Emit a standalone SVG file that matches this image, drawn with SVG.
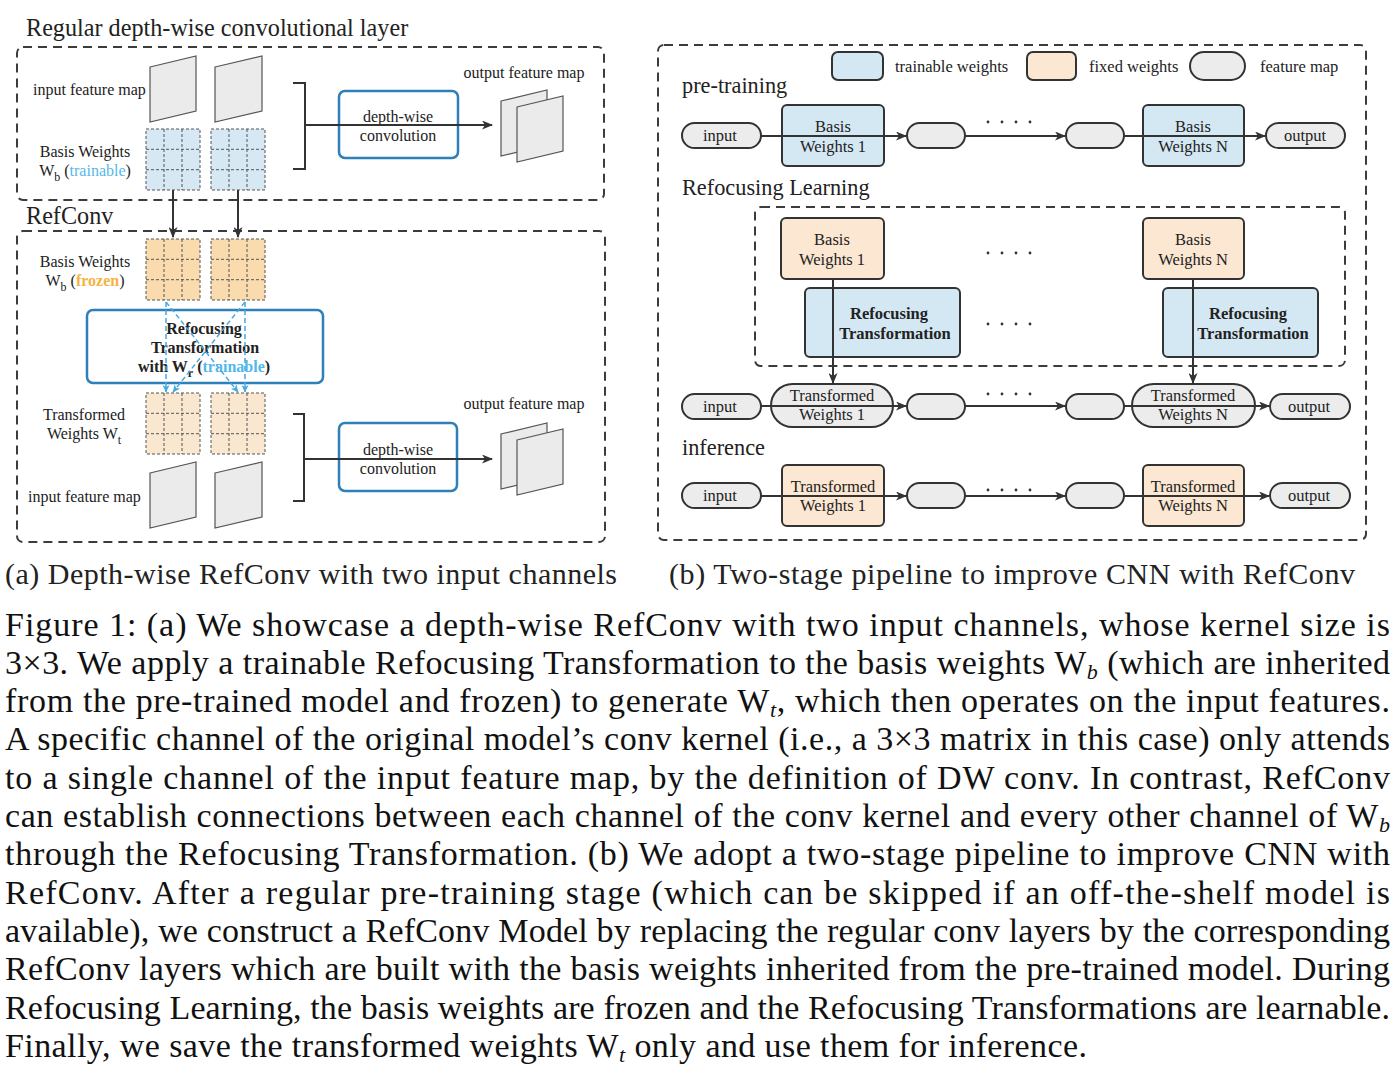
<svg xmlns="http://www.w3.org/2000/svg" width="1395" height="1077" viewBox="0 0 1395 1077">
<style>
text{font-family:"Liberation Serif","Times New Roman",serif;fill:#222}
.t16{font-size:16px}
.t165{font-size:16.5px}
.h22{font-size:22.3px}
.h24{font-size:24.2px}
.b{font-weight:bold}
.m{text-anchor:middle}
.cap{font-size:30px}
.para{font-size:34px;fill:#111}
.frame{fill:none;stroke:#3c3c3c;stroke-width:2;stroke-dasharray:9 6}
.fm{fill:#ebebeb;stroke:#555;stroke-width:1.2}
.conv{fill:none;stroke:#2f7fb8;stroke-width:2.5}
.node{stroke:#333;stroke-width:2}
.tw{fill:#d4e8f4}
.fw{fill:#fbe7d2}
.fp{fill:#ececec}
.ln{fill:none;stroke:#333;stroke-width:2}
.bl{fill:none;stroke:#45a9e2;stroke-width:1.5;stroke-dasharray:5 3}
</style>
<defs>
<marker id="ah" markerWidth="11" markerHeight="9" refX="10" refY="4.5" orient="auto" markerUnits="userSpaceOnUse"><path d="M0,0 L11,4.5 L0,9 L3,4.5z" fill="#333"/></marker>
<marker id="ahb" markerWidth="8" markerHeight="8" refX="7" refY="4" orient="auto" markerUnits="userSpaceOnUse"><path d="M0,0.5 L7.5,4 L0,7.5 L2,4z" fill="#45a9e2"/></marker>
<g id="grid">
<rect x="0" y="0" width="54" height="61" fill="none" stroke="#555" stroke-width="1" stroke-dasharray="3 2"/>
<path d="M18,0V61M36,0V61M0,20.3H54M0,40.7H54" fill="none" stroke="#555" stroke-width="1" stroke-dasharray="3 2"/>
</g>
</defs>

<!-- ===== Panel (a) ===== -->
<g id="panel-a">
<text x="26" y="36" class="h24">Regular depth-wise convolutional layer</text>
<rect x="17" y="47" width="587" height="153" rx="6" class="frame"/>
<text x="26" y="224" class="h24">RefConv</text>
<rect x="17" y="231" width="588" height="311" rx="6" class="frame"/>
</g>

<g id="input-fm-top">
<polygon points="150,67 196,56 196,111 150,122" class="fm"/>
<polygon points="215,67 262,56 262,111 215,122" class="fm"/>
<text x="33" y="95" class="t16">input feature map</text>
</g>

<g id="basis-trainable">
<rect x="146" y="129" width="54" height="61" fill="#d5e8f4"/><use href="#grid" x="146" y="129"/>
<rect x="211" y="129" width="54" height="61" fill="#d5e8f4"/><use href="#grid" x="211" y="129"/>
<text x="85" y="157" class="t16 m">Basis Weights</text>
<text x="85" y="176" class="t16 m">W<tspan font-size="12" dy="5">b</tspan><tspan dy="-5"> (</tspan><tspan fill="#55b8ea">trainable</tspan>)</text>
</g>

<g id="conv-top">
<rect x="339" y="91" width="119" height="67" rx="6" class="conv"/>
<text x="398" y="122" class="t16 m">depth-wise</text>
<text x="398" y="141" class="t16 m">convolution</text>
</g>

<g id="output-fm-top">
<text x="524" y="78" class="t16 m">output feature map</text>
<polygon points="501,101 547,90 547,145 501,156" class="fm"/>
<polygon points="517,107 563,96 563,151 517,162" class="fm"/>
</g>

<g id="basis-frozen">
<rect x="146" y="239" width="54" height="61" fill="#f9dbad"/><use href="#grid" x="146" y="239"/>
<rect x="211" y="239" width="54" height="61" fill="#f9dbad"/><use href="#grid" x="211" y="239"/>
<text x="85" y="267" class="t16 m">Basis Weights</text>
<text x="85" y="286" class="t16 m">W<tspan font-size="12" dy="5">b</tspan><tspan dy="-5"> (</tspan><tspan fill="#f5b342" font-weight="bold">frozen</tspan>)</text>
</g>

<g id="refocus-a">
<rect x="87" y="310" width="236" height="73" rx="6" class="conv"/>
<text x="204" y="334" class="t16 m b">Refocusing</text>
<text x="205" y="353" class="t16 m b">Transformation</text>
<text x="204" y="372" class="t16 m b">with W<tspan font-size="12" dy="5">r</tspan><tspan dy="-5"> (</tspan><tspan fill="#55b8ea">trainable</tspan>)</text>
</g>

<g id="transformed-a">
<rect x="146" y="393" width="54" height="61" fill="#fae7d0"/><use href="#grid" x="146" y="393"/>
<rect x="211" y="393" width="54" height="61" fill="#fae7d0"/><use href="#grid" x="211" y="393"/>
<text x="84" y="420" class="t16 m">Transformed</text>
<text x="84" y="439" class="t16 m">Weights W<tspan font-size="12" dy="5">t</tspan></text>
</g>

<g id="input-fm-bottom">
<polygon points="150,473 196,462 196,517 150,528" class="fm"/>
<polygon points="215,473 262,462 262,517 215,528" class="fm"/>
<text x="28" y="502" class="t16">input feature map</text>
</g>

<g id="conv-bottom">
<rect x="339" y="423" width="118" height="68" rx="6" class="conv"/>
<text x="398" y="455" class="t16 m">depth-wise</text>
<text x="398" y="474" class="t16 m">convolution</text>
</g>

<g id="output-fm-bottom">
<text x="524" y="409" class="t16 m">output feature map</text>
<polygon points="501,434 547,423 547,478 501,489" class="fm"/>
<polygon points="517,440 563,429 563,484 517,495" class="fm"/>
</g>

<g id="connectors-a">
<path d="M293,83 H305 V169 H293" class="ln"/>
<path d="M305,125 H492" class="ln" stroke-width="1.8" marker-end="url(#ah)"/>
<path d="M293,414 H304 V501 H293" class="ln"/>
<path d="M304,459 H492" class="ln" stroke-width="1.8" marker-end="url(#ah)"/>
<path d="M173,190 V237" class="ln" marker-end="url(#ah)"/>
<path d="M238,190 V237" class="ln" marker-end="url(#ah)"/>
<path d="M166,302 V392" class="bl" marker-end="url(#ahb)"/>
<path d="M245,302 V392" class="bl" marker-end="url(#ahb)"/>
<path d="M166,302 L238,392" class="bl" marker-end="url(#ahb)"/>
<path d="M245,302 L173,392" class="bl" marker-end="url(#ahb)"/>
</g>

<text x="5" y="584" class="cap" textLength="612" lengthAdjust="spacing">(a)  Depth-wise RefConv with two input channels</text>

<!-- ===== Panel (b) ===== -->
<g id="panel-b">
<rect x="658" y="45" width="708" height="495" rx="6" class="frame"/>
<rect x="755" y="207" width="590" height="159" rx="6" class="frame"/>
<text x="682" y="93" class="h22">pre-training</text>
<text x="682" y="195" class="h22">Refocusing Learning</text>
<text x="682" y="455" class="h22">inference</text>
</g>

<g id="legend">
<rect x="832" y="52" width="51" height="28" rx="6" class="node tw"/>
<text x="895" y="72" class="t165">trainable weights</text>
<rect x="1027" y="52" width="49" height="28" rx="6" class="node fw"/>
<text x="1089" y="72" class="t165">fixed weights</text>
<rect x="1190" y="52" width="55" height="28" rx="14" class="node fp"/>
<text x="1260" y="72" class="t165">feature map</text>
</g>

<!-- row 1: pre-training -->
<g id="r1-input"><rect x="682" y="123" width="79" height="25" rx="12.5" class="node fp"/><text x="720" y="141" class="t165 m">input</text></g>
<g id="r1-bw1"><rect x="782" y="105" width="102" height="61" rx="5" class="node tw"/><text x="833" y="132" class="t165 m">Basis</text><text x="833" y="152" class="t165 m">Weights 1</text></g>
<g id="r1-fm1"><rect x="907" y="123" width="58" height="25" rx="12.5" class="node fp"/></g>
<g id="r1-fm2"><rect x="1066" y="123" width="58" height="25" rx="12.5" class="node fp"/></g>
<g id="r1-bwN"><rect x="1143" y="105" width="101" height="61" rx="5" class="node tw"/><text x="1193" y="132" class="t165 m">Basis</text><text x="1193" y="152" class="t165 m">Weights N</text></g>
<g id="r1-output"><rect x="1266" y="123" width="79" height="25" rx="12.5" class="node fp"/><text x="1305" y="141" class="t165 m">output</text></g>

<!-- refocusing learning -->
<g id="rl-bw1"><rect x="781" y="218" width="103" height="61" rx="5" class="node fw"/><text x="832" y="245" class="t165 m">Basis</text><text x="832" y="265" class="t165 m">Weights 1</text></g>
<g id="rl-rt1"><rect x="805" y="288" width="155" height="69" rx="5" class="node tw"/><text x="889" y="319" class="t165 m b">Refocusing</text><text x="895" y="339" class="t165 m b">Transformation</text></g>
<g id="rl-bwN"><rect x="1143" y="218" width="101" height="61" rx="5" class="node fw"/><text x="1193" y="245" class="t165 m">Basis</text><text x="1193" y="265" class="t165 m">Weights N</text></g>
<g id="rl-rtN"><rect x="1163" y="288" width="155" height="69" rx="5" class="node tw"/><text x="1248" y="319" class="t165 m b">Refocusing</text><text x="1253" y="339" class="t165 m b">Transformation</text></g>

<!-- row 2 -->
<g id="r2-input"><rect x="682" y="394" width="79" height="25" rx="12.5" class="node fp"/><text x="720" y="412" class="t165 m">input</text></g>
<g id="r2-tw1"><rect x="771" y="384" width="122" height="43" rx="21.5" class="node fp"/><text x="832" y="401" class="t165 m">Transformed</text><text x="832" y="420" class="t165 m">Weights 1</text></g>
<g id="r2-fm1"><rect x="907" y="394" width="58" height="25" rx="12.5" class="node fp"/></g>
<g id="r2-fm2"><rect x="1066" y="394" width="58" height="25" rx="12.5" class="node fp"/></g>
<g id="r2-twN"><rect x="1132" y="384" width="123" height="43" rx="21.5" class="node fp"/><text x="1193" y="401" class="t165 m">Transformed</text><text x="1193" y="420" class="t165 m">Weights N</text></g>
<g id="r2-output"><rect x="1270" y="394" width="80" height="25" rx="12.5" class="node fp"/><text x="1309" y="412" class="t165 m">output</text></g>

<!-- row 3 -->
<g id="r3-input"><rect x="682" y="483" width="79" height="25" rx="12.5" class="node fp"/><text x="720" y="501" class="t165 m">input</text></g>
<g id="r3-tw1"><rect x="782" y="465" width="102" height="61" rx="5" class="node fw"/><text x="833" y="492" class="t165 m">Transformed</text><text x="833" y="511" class="t165 m">Weights 1</text></g>
<g id="r3-fm1"><rect x="907" y="483" width="58" height="25" rx="12.5" class="node fp"/></g>
<g id="r3-fm2"><rect x="1066" y="483" width="58" height="25" rx="12.5" class="node fp"/></g>
<g id="r3-twN"><rect x="1143" y="465" width="101" height="61" rx="5" class="node fw"/><text x="1193" y="492" class="t165 m">Transformed</text><text x="1193" y="511" class="t165 m">Weights N</text></g>
<g id="r3-output"><rect x="1270" y="483" width="80" height="25" rx="12.5" class="node fp"/><text x="1309" y="501" class="t165 m">output</text></g>

<g id="dots" fill="#333">
<circle cx="988" cy="122" r="1.4"/><circle cx="1002" cy="122" r="1.4"/><circle cx="1016" cy="122" r="1.4"/><circle cx="1030" cy="122" r="1.4"/>
<circle cx="988" cy="253" r="1.4"/><circle cx="1002" cy="253" r="1.4"/><circle cx="1016" cy="253" r="1.4"/><circle cx="1030" cy="253" r="1.4"/>
<circle cx="988" cy="324" r="1.4"/><circle cx="1002" cy="324" r="1.4"/><circle cx="1016" cy="324" r="1.4"/><circle cx="1030" cy="324" r="1.4"/>
<circle cx="988" cy="394" r="1.4"/><circle cx="1002" cy="394" r="1.4"/><circle cx="1016" cy="394" r="1.4"/><circle cx="1030" cy="394" r="1.4"/>
<circle cx="988" cy="490" r="1.4"/><circle cx="1002" cy="490" r="1.4"/><circle cx="1016" cy="490" r="1.4"/><circle cx="1030" cy="490" r="1.4"/>
</g>

<g id="connectors-b">
<path d="M761,136 H906" class="ln" marker-end="url(#ah)"/>
<path d="M965,136 H1065" class="ln" marker-end="url(#ah)"/>
<path d="M1124,136 H1265" class="ln" marker-end="url(#ah)"/>
<path d="M833,279 V383" class="ln" marker-end="url(#ah)"/>
<path d="M1193,279 V383" class="ln" marker-end="url(#ah)"/>
<path d="M761,406 H906" class="ln" marker-end="url(#ah)"/>
<path d="M965,406 H1065" class="ln" marker-end="url(#ah)"/>
<path d="M1124,406 H1269" class="ln" marker-end="url(#ah)"/>
<path d="M761,496 H906" class="ln" marker-end="url(#ah)"/>
<path d="M965,496 H1065" class="ln" marker-end="url(#ah)"/>
<path d="M1124,496 H1269" class="ln" marker-end="url(#ah)"/>
</g>

<text x="669" y="584" class="cap" textLength="686" lengthAdjust="spacing">(b)  Two-stage pipeline to improve CNN with RefConv</text>

<!-- ===== Figure caption ===== -->
<g id="caption">
<text x="5" y="635.5" class="para" textLength="1385" lengthAdjust="spacing">Figure 1:  (a) We showcase a depth-wise RefConv with two input channels, whose kernel size is</text>
<text x="5" y="673.8" class="para" textLength="1385" lengthAdjust="spacing">3×3. We apply a trainable Refocusing Transformation to the basis weights W<tspan font-size="22" font-style="italic" dy="5">b</tspan><tspan dy="-5"> (which are inherited</tspan></text>
<text x="5" y="712.1" class="para" textLength="1385" lengthAdjust="spacing">from the pre-trained model and frozen) to generate W<tspan font-size="22" font-style="italic" dy="5">t</tspan><tspan dy="-5">, which then operates on the input features.</tspan></text>
<text x="5" y="750.4" class="para" textLength="1385" lengthAdjust="spacing">A specific channel of the original model’s conv kernel (i.e., a 3×3 matrix in this case) only attends</text>
<text x="5" y="788.7" class="para" textLength="1385" lengthAdjust="spacing">to a single channel of the input feature map, by the definition of DW conv.  In contrast, RefConv</text>
<text x="5" y="827" class="para" textLength="1385" lengthAdjust="spacing">can establish connections between each channel of the conv kernel and every other channel of W<tspan font-size="22" font-style="italic" dy="5">b</tspan></text>
<text x="5" y="865.3" class="para" textLength="1385" lengthAdjust="spacing">through the Refocusing Transformation.  (b) We adopt a two-stage pipeline to improve CNN with</text>
<text x="5" y="903.6" class="para" textLength="1385" lengthAdjust="spacing">RefConv.  After a regular pre-training stage (which can be skipped if an off-the-shelf model is</text>
<text x="5" y="941.9" class="para" textLength="1385" lengthAdjust="spacing">available), we construct a RefConv Model by replacing the regular conv layers by the corresponding</text>
<text x="5" y="980.2" class="para" textLength="1385" lengthAdjust="spacing">RefConv layers which are built with the basis weights inherited from the pre-trained model. During</text>
<text x="5" y="1018.5" class="para" textLength="1385" lengthAdjust="spacing">Refocusing Learning, the basis weights are frozen and the Refocusing Transformations are learnable.</text>
<text x="5" y="1056.8" class="para" textLength="1082" lengthAdjust="spacing">Finally, we save the transformed weights W<tspan font-size="22" font-style="italic" dy="5">t</tspan><tspan dy="-5"> only and use them for inference.</tspan></text>
</g>
</svg>
